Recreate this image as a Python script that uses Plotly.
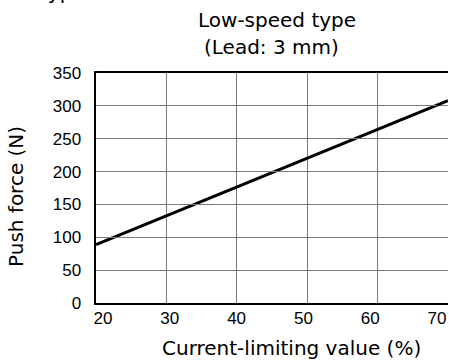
import plotly.graph_objects as go

# Data
current_pct = [20, 70]
push_force_n = [89, 308]

x_ticks = [20, 30, 40, 50, 60, 70]
y_ticks = [0, 50, 100, 150, 200, 250, 300, 350]

title_line1 = "Low-speed type"
title_line2 = "(Lead: 3 mm)"
x_title = "Current-limiting value (%)"
y_title = "Push force (N)"

W, H = 449, 362
L, R, T, B = 96, 1, 73, 59
pw, ph = W - L - R, H - T - B

def px_x(p):
    return (p - L) / pw

def px_y(p):
    return (H - B - p) / ph

fig = go.Figure()
fig.add_trace(go.Scatter(
    x=current_pct, y=push_force_n, mode="lines",
    line=dict(color="black", width=3), showlegend=False, hoverinfo="skip"))
# invisible trace carrying the (slightly offset) tick-label axis
fig.add_trace(go.Scatter(
    x=current_pct, y=push_force_n, xaxis="x2", yaxis="y", mode="lines",
    line=dict(color="rgba(0,0,0,0)", width=0), showlegend=False, hoverinfo="skip"))

tick_font = dict(family="Liberation Sans, Arial, sans-serif", size=17, color="black")
txt_font = dict(family="DejaVu Sans, sans-serif", size=20, color="black")

fig.update_layout(
    width=W, height=H,
    margin=dict(l=L, r=R, t=T, b=B, pad=0, autoexpand=False),
    paper_bgcolor="white", plot_bgcolor="rgba(0,0,0,0)",
    xaxis=dict(range=[20, 70], tickvals=x_ticks, showticklabels=False,
               showgrid=True, gridcolor="#7a7a7a", gridwidth=1,
               showline=True, linecolor="black", linewidth=2, mirror=True,
               ticks="", zeroline=False, automargin=False, domain=[0, 1]),
    xaxis2=dict(range=[20, 70], tickvals=x_ticks, ticktext=[str(v) for v in x_ticks],
                anchor="y", domain=[px_x(103), px_x(437)],
                showgrid=False, showline=False, ticks="", zeroline=False,
                ticklabelstandoff=3, tickfont=tick_font, automargin=False),
    yaxis=dict(range=[0, 350], tickvals=y_ticks, ticktext=[str(v) for v in y_ticks],
               showgrid=True, gridcolor="#7a7a7a", gridwidth=1,
               showline=True, linecolor="black", linewidth=2.5, mirror=False,
               ticks="", ticklabelstandoff=9, tickfont=tick_font, zeroline=False,
               automargin=False),
)

ann = [
    dict(text=title_line1, x=px_x(277), y=px_y(20), font=txt_font),
    dict(text=title_line2, x=px_x(271), y=px_y(47), font=txt_font),
    dict(text=x_title, x=px_x(291), y=px_y(348), font=txt_font),
    dict(text=y_title, x=px_x(16), y=px_y(197), font=txt_font, textangle=-90),
    dict(text="type", x=px_x(62), y=px_y(-8), font=txt_font),
]
for a in ann:
    fig.add_annotation(xref="paper", yref="paper", showarrow=False,
                       xanchor="center", yanchor="middle", **a)

fig.write_html(
    "out.html",
    config={"displayModeBar": False, "staticPlot": True},
    post_script="document.body.style.margin='0';document.body.style.overflow='hidden';",
)
